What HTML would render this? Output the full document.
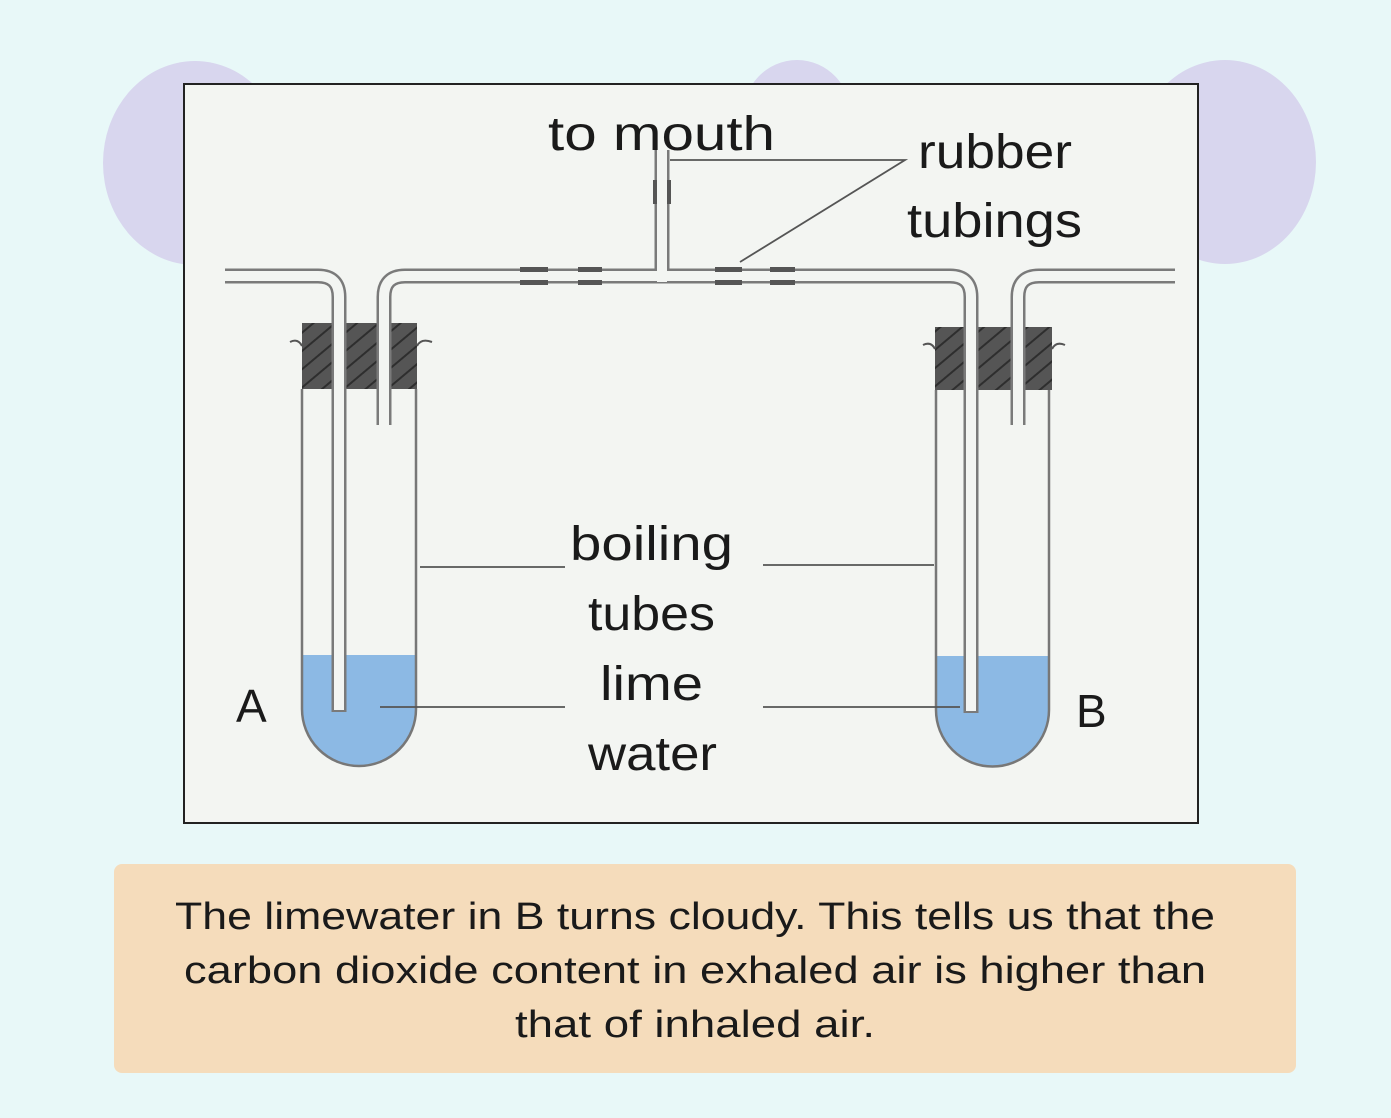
<!DOCTYPE html>
<html><head><meta charset="utf-8"><style>html,body{margin:0;padding:0;background:#e8f8f8}svg{display:block}</style></head>
<body>
<svg width="1391" height="1118" viewBox="0 0 1391 1118" xmlns="http://www.w3.org/2000/svg">
<rect width="1391" height="1118" fill="#e8f8f8"/>
<ellipse cx="195" cy="163" rx="92" ry="102" fill="#d8d6ee"/>
<ellipse cx="1225" cy="162" rx="91" ry="102" fill="#d8d6ee"/>
<ellipse cx="797" cy="118" rx="55" ry="58" fill="#d8d6ee"/>
<rect x="184" y="84" width="1014" height="739" fill="#f3f5f2" stroke="#222" stroke-width="2"/>
<!-- stoppers -->
<defs>
<pattern id="h" width="14" height="14" patternUnits="userSpaceOnUse" patternTransform="rotate(-40)">
<rect width="14" height="14" fill="#555"/><rect width="14" height="2" fill="#2e2e2e"/>
</pattern>
</defs>
<rect x="302" y="323" width="115" height="66" fill="url(#h)"/>
<rect x="935" y="327" width="117" height="63" fill="url(#h)"/>
<path d="M290,342 Q298,338 302,346 M417,346 Q421,338 432,342" stroke="#555" stroke-width="2" fill="none"/>
<path d="M923,345 Q931,341 935,349 M1052,349 Q1056,341 1065,345" stroke="#555" stroke-width="2" fill="none"/>
<!-- liquids -->
<path d="M302,655 V709 A57,57 0 0 0 416,709 V655 Z" fill="#8cb9e4"/>
<path d="M936,656 V710 A56.5,56.5 0 0 0 1049,710 V656 Z" fill="#8cb9e4"/>
<!-- boiling tube walls -->
<path d="M302,389 V709 A57,57 0 0 0 416,709 V389" fill="none" stroke="#777" stroke-width="2.5"/>
<path d="M936,390 V710 A56.5,56.5 0 0 0 1049,710 V390" fill="none" stroke="#777" stroke-width="2.5"/>
<!-- glass tubes outer -->
<g fill="none" stroke="#7a7a7a" stroke-width="15">
<path d="M225,276 H318 Q339,276 339,297 V712"/>
<path d="M384,425 V297 Q384,276 405,276 H950 Q971,276 971,297 V713"/>
<path d="M1018,425 V297 Q1018,276 1039,276 H1175"/>
<path d="M662,276 V150"/>
</g>
<g fill="none" stroke="#f3f5f2" stroke-width="10">
<path d="M225,276 H318 Q339,276 339,297 V710"/>
<path d="M384,427 V297 Q384,276 405,276 H950 Q971,276 971,297 V711"/>
<path d="M1018,427 V297 Q1018,276 1039,276 H1177"/>
<path d="M662,282 V148"/>
</g>
<!-- rubber tubing -->
<g fill="#555">
<rect x="520" y="267" width="28" height="5"/><rect x="578" y="267" width="24" height="5"/>
<rect x="520" y="280" width="28" height="5"/><rect x="578" y="280" width="24" height="5"/>
<rect x="715" y="267" width="27" height="5"/><rect x="770" y="267" width="25" height="5"/>
<rect x="715" y="280" width="27" height="5"/><rect x="770" y="280" width="25" height="5"/>
<rect x="653" y="180" width="4" height="24"/><rect x="667" y="180" width="4" height="24"/>
</g>
<!-- leaders -->
<g stroke="#555" stroke-width="1.8" fill="none">
<path d="M670,160 H905 L740,262"/>
<path d="M420,567 H565"/><path d="M380,707 H565"/>
<path d="M763,565 H934"/><path d="M763,707 H960"/>
</g>
<g font-family="Liberation Sans, sans-serif" fill="#1a1a1a" font-size="48">
<text x="548" y="150" textLength="227" lengthAdjust="spacingAndGlyphs">to mouth</text>
<text x="918" y="168" textLength="154" lengthAdjust="spacingAndGlyphs">rubber</text>
<text x="907" y="237" textLength="175" lengthAdjust="spacingAndGlyphs">tubings</text>
<text x="570" y="560" textLength="163" lengthAdjust="spacingAndGlyphs">boiling</text>
<text x="588" y="630" textLength="127" lengthAdjust="spacingAndGlyphs">tubes</text>
<text x="600" y="700" textLength="103" lengthAdjust="spacingAndGlyphs">lime</text>
<text x="588" y="770" textLength="129" lengthAdjust="spacingAndGlyphs">water</text>
<text x="236" y="722" font-size="46">A</text>
<text x="1076" y="727" font-size="46">B</text>
</g>
<rect x="114" y="864" width="1182" height="209" rx="8" fill="#f5dcbb"/>
<g font-family="Liberation Sans, sans-serif" fill="#1a1a1a" font-size="38" text-anchor="middle">
<text x="695" y="929" textLength="1040" lengthAdjust="spacingAndGlyphs">The limewater in B turns cloudy. This tells us that the</text>
<text x="695" y="983" textLength="1022" lengthAdjust="spacingAndGlyphs">carbon dioxide content in exhaled air is higher than</text>
<text x="695" y="1037" textLength="360" lengthAdjust="spacingAndGlyphs">that of inhaled air.</text>
</g>
</svg>
</body></html>
